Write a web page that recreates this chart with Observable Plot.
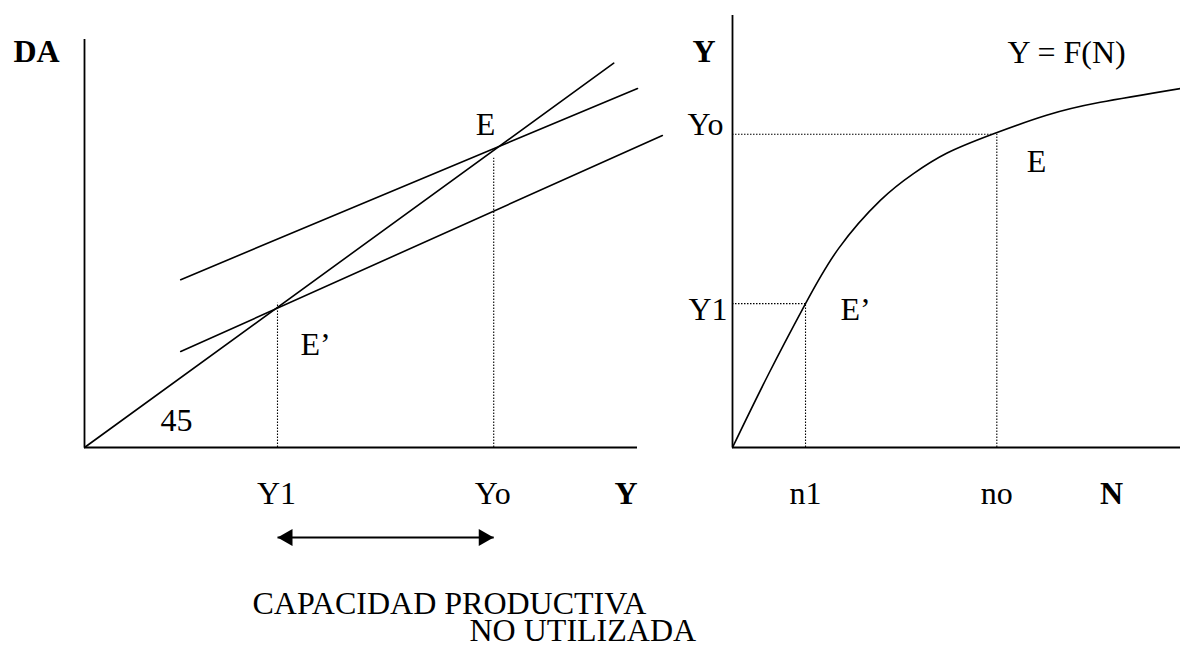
<!DOCTYPE html>
<html>
<head>
<meta charset="utf-8">
<script src="https://cdn.jsdelivr.net/npm/d3@7"></script>
<script src="https://cdn.jsdelivr.net/npm/@observablehq/plot@0.6"></script>
<style>
  html, body { margin: 0; padding: 0; background: #fff; }
  #wrap { position: relative; width: 1180px; height: 653px; overflow: hidden; }
  #wrap svg { position: absolute; left: 0; top: 0; overflow: visible; background: transparent; }
</style>
</head>
<body>
<div id="wrap"></div>
<script>
// ---------- LEFT PANEL: aggregate demand (DA) vs income (Y) ----------
const leftAxisMaxY = 10;      // length of the Y (income) axis
const leftAxisMaxDA = 10.16;  // length of the DA axis
const line45 = [{Y: 0, DA: 0}, {Y: 9.57, DA: 9.57}];
const daHigh = [{Y: 1.74, DA: 4.18}, {Y: 10.0, DA: 8.94}];
const daLow  = [{Y: 1.74, DA: 2.39}, {Y: 10.45, DA: 7.77}];
const leftDrops = [{Y: 3.49, DA: 3.59, label: "Y1"}, {Y: 7.40, DA: 7.20, label: "Yo"}];
const leftEquilibria = [{Y: 7.50, DA: 7.50, label: "E"}, {Y: 3.47, DA: 3.47, label: "E’"}];
const gapArrow = [{from: 3.49, to: 7.40}];
const captionLines = ["CAPACIDAD PRODUCTIVA", "NO UTILIZADA"];

// ---------- RIGHT PANEL: production function Y = F(N) ----------
const rightAxisMaxN = 10;
const rightAxisMaxY = 10;
const prodN = [0, 0.80, 1.63, 2.37, 3.30, 4.04, 4.78, 5.80, 7.01, 8.21, 10.0];
const prodY = [0, 1.69, 3.33, 4.61, 5.72, 6.34, 6.81, 7.25, 7.69, 7.99, 8.31];
const rightLevels = [
  {N: 1.63, Ncurve: 1.63, Y: 3.33, nLabel: "n1", yLabel: "Y1", eLabel: "E’"},
  {N: 5.90, Ncurve: 5.80, Y: 7.25, nLabel: "no", yLabel: "Yo", eLabel: "E"}
];
const funcLabel = ["Y = F(N)"];

// ---------- drawing ----------
const FONT = "Liberation Serif";
const T = {fontSize: 32, fontFamily: FONT, fill: "black", lineAnchor: "bottom"};
const B = {...T, fontWeight: "bold"};
const dotted = {stroke: "black", strokeWidth: 1.1, strokeDasharray: "1.5,1.5"};
const solid = {stroke: "black", strokeWidth: 1.6};

const curveData = prodN.map((n, i) => ({N: n, Y: prodY[i]}));

const left = Plot.plot({
  width: 1180, height: 653,
  marginLeft: 84, marginRight: 543, marginTop: 39, marginBottom: 206,
  x: {domain: [0, leftAxisMaxY], axis: null},
  y: {domain: [0, leftAxisMaxDA], axis: null},
  marks: [
    Plot.ruleX([0], {y1: 0, y2: leftAxisMaxDA, stroke: "black", strokeWidth: 1.8}),
    Plot.ruleY([0], {x1: 0, x2: leftAxisMaxY, stroke: "black", strokeWidth: 1.8}),
    Plot.ruleX(leftDrops, {x: "Y", y1: 0, y2: "DA", ...dotted}),
    Plot.line(line45, {x: "Y", y: "DA", ...solid}),
    Plot.line(daHigh, {x: "Y", y: "DA", ...solid}),
    Plot.line(daLow, {x: "Y", y: "DA", ...solid}),
    Plot.text(leftEquilibria.slice(0, 1), {x: "Y", y: "DA", text: "label", textAnchor: "end", dx: -4, dy: -11, ...T}),
    Plot.text(leftEquilibria.slice(1), {x: "Y", y: "DA", text: "label", textAnchor: "start", dx: 24, dy: 47, ...T}),
    Plot.text(["45"], {x: 0, y: 0, text: d => d, textAnchor: "start", dx: 76, dy: -17, ...T}),
    Plot.text(leftDrops, {x: "Y", y: 0, text: "label", textAnchor: "middle", dx: -1, dy: 56, ...T}),
    Plot.text(["Y"], {frameAnchor: "bottom-right", text: d => d, textAnchor: "end", dx: 0, dy: 56, ...B}),
    Plot.text(["DA"], {frameAnchor: "top-left", text: d => d, textAnchor: "start", dx: -71, dy: 22, ...B}),
    // double-headed arrow under the axis, from Y1 to Yo
    Plot.link(gapArrow, {x1: "from", x2: "to", y1: 0, y2: 0, dy: 90, stroke: "black", strokeWidth: 2}),
    Plot.dot(gapArrow, {x: "from", y: 0, dy: 90, dx: 10, symbol: "triangle", r: 6.4, rotate: -90, fill: "black"}),
    Plot.dot(gapArrow, {x: "to", y: 0, dy: 90, dx: -10, symbol: "triangle", r: 6.4, rotate: 90, fill: "black"}),
    Plot.text(captionLines.slice(0, 1), {frameAnchor: "bottom-left", text: d => d, textAnchor: "start", dx: 168, dy: 166, ...T}),
    Plot.text(captionLines.slice(1), {frameAnchor: "bottom-left", text: d => d, textAnchor: "start", dx: 385, dy: 193, ...T})
  ]
});

const right = Plot.plot({
  width: 1180, height: 653,
  marginLeft: 732, marginRight: 0, marginTop: 15, marginBottom: 206,
  x: {domain: [0, rightAxisMaxN], axis: null},
  y: {domain: [0, rightAxisMaxY], axis: null},
  marks: [
    Plot.ruleX([0], {y1: 0, y2: rightAxisMaxY, stroke: "black", strokeWidth: 1.8}),
    Plot.ruleY([0], {x1: 0, x2: rightAxisMaxN, stroke: "black", strokeWidth: 1.8}),
    Plot.ruleY(rightLevels, {y: "Y", x1: 0, x2: "Ncurve", ...dotted}),
    Plot.ruleX(rightLevels, {x: "N", y1: 0, y2: "Y", ...dotted}),
    Plot.line(curveData, {x: "N", y: "Y", curve: "natural", ...solid}),
    Plot.text(rightLevels.slice(1), {x: 0, y: "Y", text: "yLabel", textAnchor: "end", dx: -9, dy: 1, ...T}),
    Plot.text(rightLevels.slice(0, 1), {x: 0, y: "Y", text: "yLabel", textAnchor: "end", dx: -5, dy: 16, ...T}),
    Plot.text(rightLevels.slice(1), {x: "N", y: "Y", text: "eLabel", textAnchor: "start", dx: 30, dy: 38, ...T}),
    Plot.text(rightLevels.slice(0, 1), {x: "N", y: "Y", text: "eLabel", textAnchor: "start", dx: 35, dy: 16, ...T}),
    Plot.text(rightLevels, {x: "N", y: 0, text: "nLabel", textAnchor: "middle", dy: 56, ...T}),
    Plot.text(["N"], {frameAnchor: "bottom-right", text: d => d, textAnchor: "middle", dx: -69, dy: 56, ...B}),
    Plot.text(["Y"], {frameAnchor: "top-left", text: d => d, textAnchor: "end", dx: -17, dy: 46, ...B}),
    Plot.text(funcLabel, {frameAnchor: "top-left", text: d => d, textAnchor: "start", dx: 275, dy: 47, ...T})
  ]
});

const wrap = document.getElementById("wrap");
for (const svg of [left, right]) {
  svg.style.background = "transparent";
  svg.style.overflow = "visible";
  wrap.appendChild(svg);
}
</script>
</body>
</html>
